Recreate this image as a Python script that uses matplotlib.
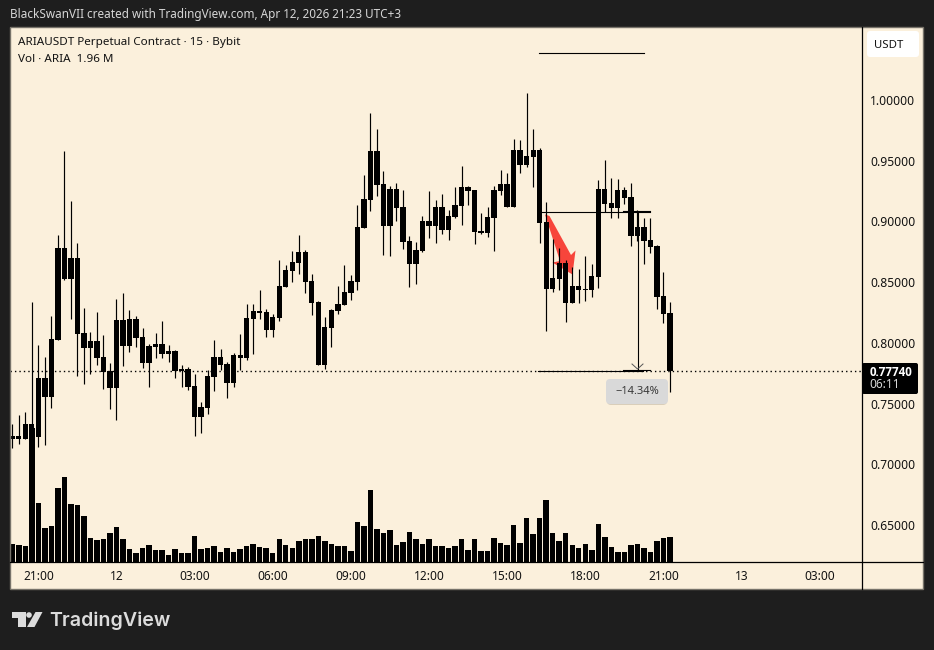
import matplotlib
matplotlib.use("Agg")
import matplotlib.pyplot as plt
from matplotlib.patches import FancyBboxPatch, Polygon, Circle, Rectangle
from matplotlib.transforms import ScaledTranslation
import numpy as np

# bar index 0 is the 21:00 candle, 15 minutes per bar
bar_idx = np.arange(-4, 98)

wick_hi = [0.7337, 0.7414, 0.7439, 0.8345, 0.7991, 0.7892, 0.8230, 0.8897, 0.9588, 0.9177,
           0.8831, 0.8295, 0.8098, 0.8262, 0.8073, 0.7843, 0.8370, 0.8419, 0.8279, 0.8230,
           0.8131, 0.7999, 0.8090, 0.8189, 0.7991, 0.7950, 0.7826, 0.7810, 0.7752, 0.7522,
           0.7785, 0.8032, 0.7958, 0.7851, 0.7925, 0.8082, 0.8329, 0.8329, 0.8444, 0.8288,
           0.8246, 0.8691, 0.8650, 0.8765, 0.8897, 0.8773, 0.8576, 0.8353, 0.8222, 0.8288,
           0.8477, 0.8650, 0.8568, 0.9144, 0.9391, 0.9902, 0.9770, 0.9424, 0.9300, 0.9325,
           0.9267, 0.8889, 0.8839, 0.9053, 0.9259, 0.9185, 0.9235, 0.9103, 0.9292, 0.9465,
           0.9300, 0.9267, 0.9078, 0.9127, 0.9300, 0.9432, 0.9407, 0.9687, 0.9679, 1.0066,
           0.9769, 0.9613, 0.9168, 0.8864, 0.8790, 0.8691, 0.8633, 0.8617, 0.8724, 0.8658,
           0.9349, 0.9514, 0.9366, 0.9358, 0.9292, 0.9325, 0.9102, 0.9037, 0.9037, 0.8814,
           0.8592, 0.8345]
body_hi = [0.7241, 0.7241, 0.7340, 0.7340, 0.7719, 0.7719, 0.8040, 0.8790, 0.8790, 0.8707,
           0.8707, 0.8090, 0.8024, 0.8024, 0.7892, 0.7777, 0.8197, 0.8197, 0.8205, 0.8205,
           0.8057, 0.7983, 0.7999, 0.7999, 0.7942, 0.7942, 0.7793, 0.7793, 0.7653, 0.7481,
           0.7735, 0.7892, 0.7892, 0.7835, 0.7909, 0.7909, 0.8213, 0.8271, 0.8271, 0.8263,
           0.8222, 0.8477, 0.8609, 0.8675, 0.8757, 0.8757, 0.8518, 0.8345, 0.8139, 0.8279,
           0.8329, 0.8428, 0.8518, 0.8963, 0.9193, 0.9588, 0.9588, 0.9317, 0.9276, 0.9276,
           0.9128, 0.8848, 0.8773, 0.9012, 0.9012, 0.9128, 0.9128, 0.9053, 0.9144, 0.9292,
           0.9292, 0.9267, 0.8930, 0.9045, 0.9267, 0.9317, 0.9317, 0.9597, 0.9597, 0.9547,
           0.9597, 0.9597, 0.9004, 0.8542, 0.8666, 0.8666, 0.8477, 0.8477, 0.8452, 0.8559,
           0.9275, 0.9275, 0.9160, 0.9267, 0.9267, 0.9210, 0.8962, 0.8962, 0.8855, 0.8806,
           0.8394, 0.8254]
body_lo = [0.7214, 0.7217, 0.7217, 0.7236, 0.7236, 0.7565, 0.7565, 0.8035, 0.8537, 0.8537,
           0.8084, 0.7969, 0.7969, 0.7884, 0.7771, 0.7640, 0.7640, 0.7983, 0.7983, 0.8049,
           0.7843, 0.7843, 0.7975, 0.7917, 0.7917, 0.7777, 0.7777, 0.7645, 0.7398, 0.7398,
           0.7472, 0.7728, 0.7826, 0.7678, 0.7678, 0.7884, 0.7884, 0.8205, 0.8255, 0.8115,
           0.8115, 0.8213, 0.8469, 0.8600, 0.8666, 0.8510, 0.8337, 0.7826, 0.7826, 0.8131,
           0.8271, 0.8320, 0.8419, 0.8510, 0.8955, 0.9185, 0.9309, 0.8971, 0.8971, 0.9119,
           0.8839, 0.8658, 0.8658, 0.8765, 0.8971, 0.8971, 0.8938, 0.8938, 0.9045, 0.9135,
           0.9259, 0.8921, 0.8913, 0.8913, 0.9037, 0.9259, 0.9127, 0.9127, 0.9473, 0.9473,
           0.9539, 0.8995, 0.8452, 0.8452, 0.8534, 0.8337, 0.8337, 0.8444, 0.8444, 0.8444,
           0.8551, 0.9152, 0.9119, 0.9119, 0.9201, 0.8888, 0.8888, 0.8847, 0.8798, 0.8386,
           0.8246, 0.7774]
wick_lo = [0.7145, 0.7175, 0.7217, 0.7236, 0.7153, 0.7167, 0.7475, 0.8035, 0.8526, 0.8205,
           0.7735, 0.7670, 0.7752, 0.7826, 0.7629, 0.7464, 0.7373, 0.7818, 0.7933, 0.7975,
           0.7802, 0.7645, 0.7884, 0.7884, 0.7851, 0.7719, 0.7645, 0.7620, 0.7241, 0.7266,
           0.7423, 0.7612, 0.7785, 0.7555, 0.7645, 0.7785, 0.7868, 0.7917, 0.8205, 0.8057,
           0.8057, 0.8189, 0.8469, 0.8510, 0.8576, 0.8419, 0.8238, 0.7826, 0.7793, 0.7975,
           0.8246, 0.8320, 0.8362, 0.8444, 0.8955, 0.9095, 0.9218, 0.8732, 0.8724, 0.9012,
           0.8782, 0.8469, 0.8493, 0.8757, 0.8872, 0.8831, 0.8905, 0.8856, 0.9037, 0.8979,
           0.9144, 0.8822, 0.8905, 0.8880, 0.8765, 0.9226, 0.9127, 0.9127, 0.9407, 0.9457,
           0.9292, 0.8831, 0.8106, 0.8427, 0.8444, 0.8180, 0.8337, 0.8337, 0.8353, 0.8386,
           0.8460, 0.9086, 0.9037, 0.9037, 0.9152, 0.8806, 0.8847, 0.8658, 0.8748, 0.8287,
           0.8172, 0.7604]
# volume in millions of ARIA
volume = [1.41, 1.33, 1.25, 10.5, 4.62, 2.66, 2.82, 5.80, 6.66, 4.54,
          4.46, 3.60, 1.88, 1.72, 1.80, 2.27, 2.74, 1.80, 1.02, 0.70,
          1.10, 1.33, 0.94, 0.94, 0.55, 1.02, 0.70, 0.70, 2.04, 1.02,
          1.10, 1.25, 0.78, 1.10, 0.78, 1.02, 1.25, 1.41, 1.17, 1.10,
          0.70, 1.80, 1.33, 1.10, 1.64, 1.80, 1.80, 2.04, 1.64, 1.41,
          1.25, 1.25, 0.86, 3.13, 2.82, 5.64, 2.58, 2.27, 2.51, 1.33,
          1.57, 2.35, 1.80, 1.41, 1.80, 1.25, 1.25, 1.10, 1.25, 1.80,
          0.94, 1.80, 0.86, 0.86, 1.88, 1.49, 1.33, 2.90, 1.49, 3.45,
          2.19, 3.45, 4.86, 2.27, 1.64, 2.27, 1.33, 1.10, 1.41, 0.94,
          2.98, 1.96, 1.17, 0.78, 0.78, 1.33, 1.41, 1.10, 0.78, 1.64,
          1.88, 1.96]

price_ticks = [0.65, 0.70, 0.75, 0.80, 0.85, 0.90, 0.95, 1.00]
time_ticks = [0, 12, 24, 36, 48, 60, 72, 84, 96, 108, 120]
time_labels = ["21:00", "12", "03:00", "06:00", "09:00", "12:00", "15:00", "18:00", "21:00", "13", "03:00"]
last_price = 0.7774

BG = "#1e1e1e"
PANEL = "#fbf0dc"
INK = "#131313"
FONT = "Noto Sans"
W, H = 934, 650

plt.rcParams["font.family"] = FONT

fig = plt.figure(figsize=(W / 100, H / 100), dpi=100, facecolor=BG)

# panel behind the pane and both axis strips
back = fig.add_axes([0, 0, 1, 1], facecolor="none")
back.set_xlim(0, W)
back.set_ylim(H, 0)
back.axis("off")
back.add_patch(Rectangle((10, 27), 913, 562, fc=PANEL, ec="none"))

# pixel box of the price pane
left, right, top, bottom = 10, 862, 27, 562
rect = [left / W, 1 - bottom / H, (right - left) / W, (bottom - top) / H]

ax = fig.add_axes(rect, facecolor=PANEL)
ax.set_xlim(-4.35, 126.5)
ax.set_ylim(0.6204, 1.0609)
for s in ax.spines.values():
    s.set_visible(False)
ax.yaxis.tick_right()
ax.set_yticks(price_ticks)
ax.set_yticklabels(["%.5f" % p for p in price_ticks], fontsize=8.7, color=INK)
ax.set_xticks(time_ticks)
ax.set_xticklabels(time_labels, fontsize=8.6, color=INK)
ax.tick_params(axis="y", length=0, pad=6)
ax.tick_params(axis="x", length=0, pad=6)
# nudge price labels up one pixel
for lab in ax.get_yticklabels():
    lab.set_transform(lab.get_transform() + ScaledTranslation(0, 1 / 100, fig.dpi_scale_trans))

# volume sits on its own scale at the bottom of the pane
vol_ax = fig.add_axes(rect, facecolor="none")
vol_ax.set_xlim(ax.get_xlim())
vol_ax.set_ylim(0, 41.9)
vol_ax.axis("off")
vol_ax.bar(bar_idx, volume, width=0.84, color="black", linewidth=0)

ax.axhline(last_price, color="black", lw=1.0, ls=(0, (1, 2.2)), zorder=1)

# everything else is placed in screen pixels on a full-figure overlay
ui = fig.add_axes([0, 0, 1, 1], facecolor="none")
ui.set_xlim(0, W)
ui.set_ylim(H, 0)
ui.axis("off")

# red arrow goes under the candles
arrow_shape = [(545, 214.5), (549.5, 216), (571, 255), (575.5, 250.5), (572.5, 274.5),
               (552.5, 262.5), (560, 261)]
ax.add_patch(Polygon(arrow_shape, closed=True, fc="#f7453b", ec="none",
                     transform=ui.transData, zorder=1.5))

# candles, all black in this theme
body_lo_arr = np.array(body_lo)
body_hi_arr = np.array(body_hi)
ax.vlines(bar_idx, wick_lo, wick_hi, color="black", lw=0.85, zorder=2)
ax.bar(bar_idx, body_hi_arr - body_lo_arr, bottom=body_lo_arr, width=0.82,
       color="black", linewidth=0, zorder=3)

# frame of the chart
ui.add_patch(Rectangle((10, 27), 913, 562, fill=False, ec="#77736a", lw=1.0))
ui.plot([right, right], [27, 589], color="black", lw=0.9)
ui.plot([10, 923], [562, 562], color="black", lw=0.9)

# drawn tools
TOOL_LW = 0.8
ui.plot([539, 644], [53, 53], color="black", lw=TOOL_LW)
ui.plot([540, 650], [212, 212], color="black", lw=TOOL_LW)
ui.plot([623, 650], [211, 211], color="black", lw=TOOL_LW)
ui.plot([538, 643], [371, 371], color="black", lw=TOOL_LW)
ui.plot([623, 650], [369.5, 369.5], color="black", lw=TOOL_LW)
ui.plot([637.5, 637.5], [212, 369], color="black", lw=TOOL_LW)
ui.plot([632, 637.5, 643], [364, 369, 364], color="#555555", lw=0.7)

# range label with its soft shadow
ui.add_patch(FancyBboxPatch((607, 381), 60, 24, boxstyle="round,pad=0,rounding_size=4",
                            fc="#b9ad99", ec="none", alpha=0.5))
ui.add_patch(FancyBboxPatch((606, 379), 62, 25, boxstyle="round,pad=0,rounding_size=4",
                            fc="#d9d9d9", ec="none"))
ui.text(637, 391.5, "\u221214.34%", ha="center", va="center", fontsize=8, color="#3a3a3a")

# unit and last price tags on the axis
ui.add_patch(FancyBboxPatch((867, 31), 52, 26, boxstyle="round,pad=0,rounding_size=3",
                            fc="white", ec="none"))
ui.text(889, 45, "USDT", ha="center", va="center", fontsize=8.2, color=INK)
ui.add_patch(FancyBboxPatch((862, 363), 56, 31, boxstyle="round,pad=0,rounding_size=2",
                            fc="black", ec="none"))
ui.text(891, 372, "%.5f" % last_price, ha="center", va="center", fontsize=8.4,
        color="white", family="Open Sans", fontweight="bold")
ui.text(885, 385, "06:11", ha="center", va="center", fontsize=8.6, color="#d8d8d8")

# header and legend
ui.text(10, 14.5, "BlackSwanVII created with TradingView.com, Apr 12, 2026 21:23 UTC+3",
        va="center", fontsize=8.45, color="#d6d6d6")
ui.text(18, 43, "ARIAUSDT Perpetual Contract \u00b7 15 \u00b7 Bybit", va="center",
        fontsize=8.4, color=INK)
ui.text(18, 60, "Vol \u00b7 ARIA  1.96 M", va="center", fontsize=8.4, color=INK)

# TradingView mark and word
LOGO = "#dcdcdc"
ui.add_patch(Polygon([(12, 612), (25.5, 612), (25.5, 627), (17.5, 627), (17.5, 617.5), (12, 617.5)],
                     closed=True, fc=LOGO, ec="none"))
ui.add_patch(Circle((29, 615), 2.8, fc=LOGO, ec="none"))
ui.add_patch(Polygon([(35.5, 612), (42.5, 612), (34.5, 627), (27, 627)], closed=True, fc=LOGO, ec="none"))
ui.text(49, 626.5, "TradingView", va="baseline", fontsize=14.1, color=LOGO,
        family="Inter", fontweight="semibold")

fig.savefig("out.png", dpi=100, facecolor=BG)
